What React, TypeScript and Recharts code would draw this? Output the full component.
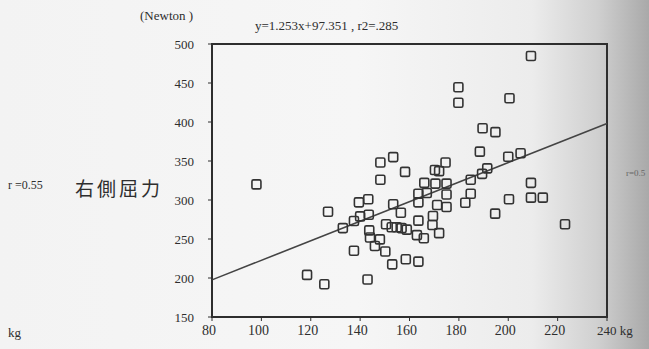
import React from "react";
import {
  ReferenceArea,
  ReferenceLine,
  Scatter,
  ScatterChart,
  XAxis,
  YAxis
} from "recharts";

// body weight (kg) vs right lateral flexion force (Newton)
const weight = [
  98, 118.5, 125.5, 127, 133, 137.5, 137.5, 139.5, 140, 143, 143.3, 143.5, 143.7, 144, 146,
  148, 148.2, 148.2, 150.2, 150.5, 152.8, 153, 153.4, 153.4, 154.8, 156.5, 156.8, 158.2,
  158.5, 158.9, 163, 163.6, 163.6, 163.6, 163.6, 165.8, 166, 167, 169.5, 169.3, 170.3, 172,
  170.5, 171.2, 172, 174.6, 175, 175, 175, 179.8, 179.8, 182.6, 184.8, 184.8, 188.5, 189.4,
  189.6, 191.5, 194.7, 194.8, 200, 200.3, 200.5, 205, 209.2, 209.2, 209.2, 214, 223
];
const force = [
  320, 204, 192, 285, 264, 235, 273, 297, 279, 198, 301, 281, 261, 252, 241,
  249.5, 326, 348, 234, 269, 265, 217.5, 294.5, 355, 265, 283.7, 264, 336,
  224, 262, 255, 221, 273.5, 297, 308, 251, 322, 309, 279.5, 268, 338.5, 337,
  321, 293.6, 257.5, 348, 321, 307, 291, 444.5, 424.7, 296.5, 326, 308, 362, 333.5,
  392, 340.6, 282.5, 387, 355.5, 301, 430.4, 360, 484.6, 322, 303, 303, 269
];

const xDomain = [80, 240];
const yDomain = [150, 500];

// regression from the chart title
const slope = 1.253;
const intercept = 97.351;

const data = weight.map((w, i) => ({ w, f: force[i] }));

const ink = "#2e2e2e";
const serif = "'Liberation Serif', 'DejaVu Serif', serif";

const Square = (props: any) => {
  const { cx, cy } = props;
  return (
    <rect x={cx - 4.5} y={cy - 4.5} width={9} height={9} rx={1.5}
      fill="none" stroke="#333" strokeWidth={1.6} />
  );
};

const XTick = (props: any) => {
  const { x, y, payload } = props;
  if (payload.value === 240) {
    return (
      <text x={x - 10} y={y + 12} fontSize={13} fontFamily={serif} fill={ink} textAnchor="start">
        240 kg
      </text>
    );
  }
  return (
    <text x={x - 3} y={y + 12} fontSize={14} fontFamily={serif} fill={ink} textAnchor="middle">
      {payload.value}
    </text>
  );
};

const txt = { position: "absolute" as const, fontFamily: serif, color: ink, whiteSpace: "nowrap" as const };

export default function App() {
  return (
    <div
      style={{
        position: "absolute",
        left: 0,
        top: 0,
        width: 649,
        height: 349,
        background:
          "linear-gradient(to right, #f3f3f3 0%, #f6f6f6 55%, #ececec 82%, #d0d0d0 92%, #a9a9a9 100%)"
      }}
    >
      <span style={{ ...txt, left: 140, top: 8, fontSize: 13 }}>(Newton )</span>
      <span style={{ ...txt, left: 255, top: 18, fontSize: 13 }}>y=1.253x+97.351 , r2=.285</span>
      <span style={{ ...txt, left: 8, top: 178, fontSize: 12 }}>r =0.55</span>
      <span
        style={{
          ...txt,
          left: 75,
          top: 174,
          fontSize: 19,
          letterSpacing: 3,
          fontFamily: "'Noto Sans CJK TC', sans-serif"
        }}
      >
        右側屈力
      </span>
      <span style={{ ...txt, left: 8, top: 325, fontSize: 13 }}>kg</span>
      <span style={{ ...txt, left: 626, top: 168, fontSize: 9, color: "#666" }}>r=0.5</span>
      <ScatterChart
        width={649}
        height={349}
        margin={{ top: 44, right: 42, bottom: 12, left: 172 }}
      >
        <XAxis
          type="number"
          dataKey="w"
          domain={xDomain}
          tickCount={9}
          height={20}
          tick={<XTick />}
          tickSize={4}
          stroke={ink}
        />
        <YAxis
          type="number"
          dataKey="f"
          domain={yDomain}
          tickCount={8}
          width={40}
          tickSize={4}
          tickMargin={14}
          tick={{ fontSize: 13, fill: ink, fontFamily: serif }}
          stroke={ink}
        />
        {/* plot frame */}
        <ReferenceArea
          x1={80}
          x2={240}
          y1={150}
          y2={500}
          fill="none"
          fillOpacity={0}
          stroke={ink}
          strokeWidth={2}
          strokeOpacity={1}
          ifOverflow="visible"
        />
        <ReferenceLine
          segment={[
            { x: 80, y: slope * 80 + intercept },
            { x: 240, y: slope * 240 + intercept }
          ]}
          stroke="#444"
          strokeWidth={1.6}
        />
        <Scatter data={data} shape={<Square />} isAnimationActive={false} />
      </ScatterChart>
    </div>
  );
}
